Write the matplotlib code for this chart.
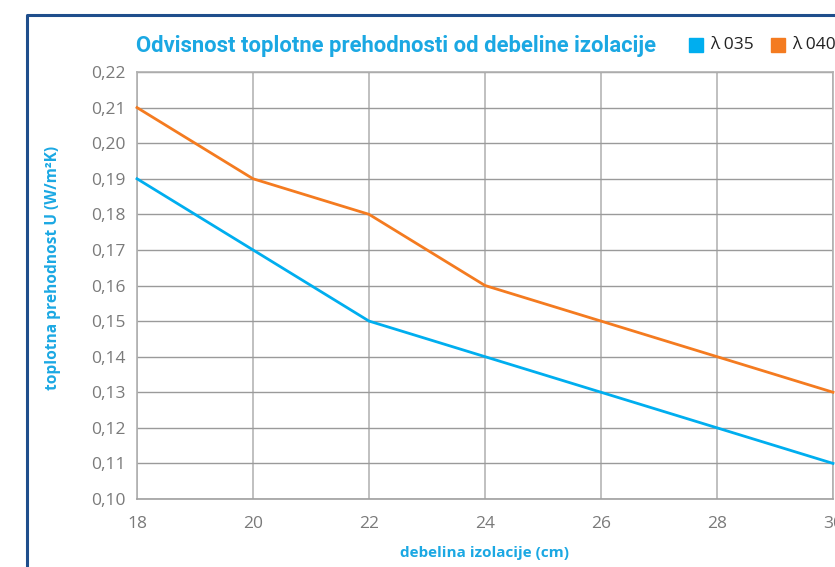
import matplotlib.pyplot as plt
from matplotlib.lines import Line2D
from matplotlib.patches import Rectangle

thickness = [18, 20, 22, 24, 26, 28, 30]
u_035 = [0.19, 0.17, 0.15, 0.14, 0.13, 0.12, 0.11]
u_040 = [0.21, 0.19, 0.18, 0.16, 0.15, 0.14, 0.13]
y_ticks = [0.10, 0.11, 0.12, 0.13, 0.14, 0.15, 0.16, 0.17, 0.18, 0.19, 0.20, 0.21, 0.22]
labels = ['λ 035', 'λ 040']

BLUE = '#00aeef'
ORANGE = '#f47b20'
TITLE_BLUE = '#1ba8e3'
NAVY = '#1f4e8c'
GREY = '#7a7a7a'

W, H = 835, 567
plt.rcParams['font.family'] = ['Open Sans', 'DejaVu Sans']

fig = plt.figure(figsize=(W / 100, H / 100), dpi=100)
ax = fig.add_axes([137 / W, (H - 499) / H, (833 - 137) / W, (499 - 72) / H])

ax.plot(thickness, u_035, color=BLUE, lw=2.0, clip_on=False, zorder=3)
ax.plot(thickness, u_040, color=ORANGE, lw=2.0, clip_on=False, zorder=3)

ax.set_xlim(18, 30)
ax.set_ylim(0.10, 0.22)
ax.set_xticks(thickness)
ax.set_yticks(y_ticks)
ax.set_yticklabels([f'{v:.2f}'.replace('.', ',') for v in y_ticks])
ax.tick_params(length=0, labelsize=12.5, labelcolor=GREY, pad=8)
ax.tick_params(axis='x', pad=12)
ax.grid(axis='y', color='#9a9a9a', lw=1.0)
ax.grid(axis='x', color='#c0c0c0', lw=1.4)
for s in ax.spines.values():
    s.set_color('#b0b0b0')
    s.set_linewidth(1.2)
ax.spines['bottom'].set_color('#a0a0a0')

ax.set_xlabel('debelina izolacije (cm)', color=TITLE_BLUE, fontweight='bold',
              fontsize=11, labelpad=10)
fig.text(53 / W, 1 - 268 / H, 'toplotna prehodnost U (W/m²K)', color=TITLE_BLUE,
         fontweight='bold', fontsize=11.2, rotation=90, ha='center', va='center')

fig.text(136 / W, 1 - 46 / H, 'Odvisnost toplotne prehodnosti od debeline izolacije',
         color=TITLE_BLUE, fontweight='bold', fontsize=15.8, family=['Roboto', 'DejaVu Sans'],
         ha='left', va='center')

# legend as squares + text
for x0, c, lab in zip([689, 771], [BLUE, ORANGE], labels):
    fig.add_artist(Rectangle((x0 / W, 1 - 52 / H), 14 / W, 14 / H, color=c,
                             transform=fig.transFigure))
    fig.text((x0 + 21) / W, 1 - 45 / H, lab, color='#222222', fontsize=12.5,
             ha='left', va='center')

# navy frame, cut at right/bottom
fig.add_artist(Line2D([27 / W, 27 / W, 1.01], [-0.01, 1 - 15 / H, 1 - 15 / H],
                      color=NAVY, lw=2.2, transform=fig.transFigure))

fig.savefig('out.png', dpi=100)
